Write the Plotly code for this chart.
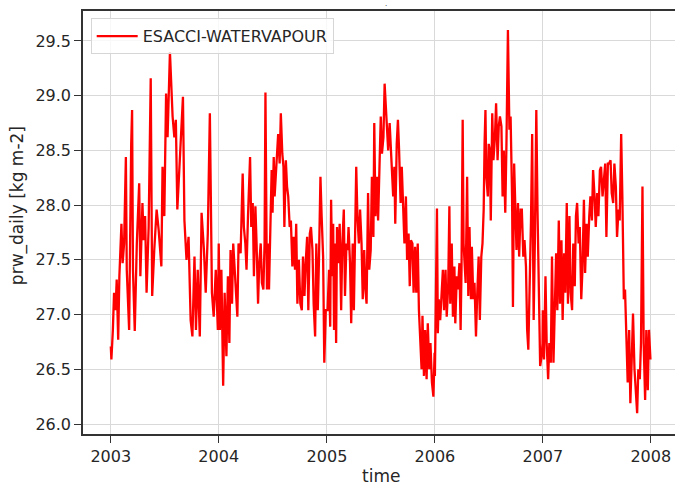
import pandas as pd
import plotly.graph_objects as go

series_name = "ESACCI-WATERVAPOUR"
y_label = "prw_daily [kg m-2]"
x_label = "time"
year_ticks = [2003, 2004, 2005, 2006, 2007, 2008]
y_ticks = [26.0, 26.5, 27.0, 27.5, 28.0, 28.5, 29.0, 29.5]

days_2003 = [0, 2, 7, 11, 16, 20, 25, 29, 36, 40, 45, 51, 54, 62, 69, 72, 75, 81, 88, 96, 100, 107, 111, 116,
             121, 128, 135, 140, 147, 155, 162, 171, 175, 181, 187, 192, 200, 203, 209, 215, 220, 225, 234,
             244, 249, 256, 263, 270, 276, 283, 288, 294, 301, 307, 315, 321, 328, 335, 342, 348, 355, 362]
vals_2003 = [26.71, 26.59, 26.86, 27.20, 27.04, 27.32, 26.77, 27.35, 27.83, 27.47, 27.65, 28.44, 27.41, 26.86,
             28.56, 28.87, 27.41, 26.85, 27.65, 28.20, 27.35, 28.02, 27.68, 27.90, 27.20, 27.80, 29.16, 27.17,
             27.59, 27.96, 27.77, 27.44, 28.35, 27.90, 29.02, 28.62, 29.40, 29.17, 28.81, 28.62, 28.78, 27.96,
             28.50, 28.99, 27.86, 27.50, 27.71, 26.95, 26.80, 27.53, 26.86, 27.41, 26.80, 27.93, 27.59, 27.20,
             27.74, 28.84, 27.20, 26.98, 27.41, 26.86]

days_2004 = [0, 4, 9, 15, 20, 26, 31, 36, 40, 45, 49, 54, 58, 63, 67, 74, 81, 85, 90, 94, 99, 103, 106, 110,
             115, 119, 124, 128, 133, 137, 142, 146, 151, 155, 158, 163, 166, 170, 174, 179, 182, 186, 189,
             193, 198, 201, 206, 210, 215, 219, 222, 227, 231, 235, 240, 244, 249, 253, 258, 262, 266, 271,
             276, 281, 285, 290, 294, 299, 303, 308, 312, 317, 321, 326, 330, 335, 339, 344, 348, 353, 357, 362]
vals_2004 = [27.65, 26.86, 27.41, 26.35, 27.20, 26.62, 27.35, 26.74, 27.59, 27.10, 27.65, 27.41, 27.14, 26.98,
             27.65, 27.56, 28.29, 27.80, 27.65, 27.41, 27.90, 28.23, 28.44, 27.80, 28.02, 27.35, 27.99, 27.65,
             27.10, 27.47, 27.65, 27.29, 27.23, 27.65, 29.03, 27.23, 27.65, 27.23, 27.90, 28.32, 27.93, 28.44,
             28.08, 28.32, 28.47, 28.65, 28.38, 28.84, 28.47, 28.35, 27.80, 28.41, 28.17, 28.08, 27.80, 27.86,
             27.44, 27.71, 27.41, 27.83, 27.10, 27.50, 27.10, 27.04, 27.53, 27.17, 27.47, 27.71, 27.04, 27.74,
             27.80, 27.59, 27.10, 26.80, 27.65, 27.04, 27.50, 28.26, 27.90, 27.53, 26.56, 27.04]

days_2005 = [2, 7, 11, 14, 18, 21, 24, 28, 31, 34, 39, 43, 48, 52, 57, 61, 66, 70, 73, 78, 82, 87, 91, 96, 99,
             103, 108, 112, 117, 121, 126, 130, 134, 139, 143, 148, 152, 157, 160, 164, 169, 173, 178, 182,
             186, 191, 195, 199, 203, 207, 212, 215, 219, 224, 228, 231, 236, 240, 244, 249, 253, 258, 262,
             267, 271, 276, 280, 284, 289, 293, 298, 302, 307, 311, 316, 320, 323, 328, 332, 337, 341, 346,
             350, 355, 360, 364]
vals_2005 = [27.04, 27.41, 26.89, 28.05, 27.35, 27.83, 26.86, 27.65, 26.74, 27.80, 27.47, 27.83, 27.04, 27.65,
             27.96, 27.17, 27.65, 27.59, 27.80, 27.47, 26.92, 27.65, 27.04, 28.14, 28.35, 27.90, 27.65, 27.96,
             27.65, 27.14, 27.59, 27.23, 27.10, 28.11, 27.41, 27.59, 28.26, 27.71, 28.75, 27.90, 28.26, 27.86,
             28.32, 28.81, 28.47, 28.62, 29.11, 28.87, 28.75, 28.50, 28.75, 28.56, 28.38, 28.08, 28.35, 27.83,
             28.56, 28.78, 28.50, 28.02, 28.35, 27.96, 27.65, 28.08, 27.50, 27.74, 27.26, 27.68, 27.65, 27.20,
             27.62, 27.20, 27.65, 27.04, 26.74, 26.50, 26.99, 26.44, 26.86, 26.41, 26.92, 26.50, 26.74, 26.38,
             26.25, 26.65]

days_2006 = [0, 7, 10, 13, 18, 22, 27, 31, 36, 40, 45, 49, 52, 57, 61, 66, 69, 74, 78, 83, 87, 90, 94, 97, 101,
             104, 109, 113, 117, 122, 125, 130, 134, 139, 143, 148, 152, 157, 161, 165, 168, 171, 174, 179,
             182, 186, 189, 194, 198, 203, 207, 212, 216, 220, 225, 229, 233, 238, 242, 247, 252, 256, 261,
             264, 268, 273, 276, 281, 285, 290, 294, 299, 303, 308, 312, 316, 320, 325, 329, 334, 338, 343,
             347, 352, 356, 361, 364]
vals_2006 = [26.44, 27.97, 26.83, 27.14, 26.95, 27.14, 27.41, 27.04, 27.41, 26.98, 27.26, 27.99, 27.10, 27.65,
             26.98, 27.44, 26.92, 27.35, 27.23, 27.47, 26.86, 27.41, 28.78, 27.65, 27.35, 27.29, 28.26, 27.17,
             27.80, 27.14, 27.62, 27.14, 27.29, 26.80, 27.17, 27.53, 26.95, 27.53, 27.65, 27.96, 28.56, 28.87,
             28.26, 28.08, 28.56, 28.50, 27.86, 28.84, 28.41, 28.62, 28.93, 28.41, 28.72, 28.81, 28.72, 28.08,
             28.50, 27.93, 28.56, 29.60, 28.69, 28.81, 28.08, 27.07, 28.38, 27.96, 27.59, 28.02, 27.53, 27.96,
             27.96, 27.53, 27.68, 27.44, 26.86, 26.68, 27.10, 27.86, 28.65, 26.95, 27.65, 28.87, 27.96, 27.20,
             26.53, 26.62, 26.74]

days_2007 = [0, 4, 9, 13, 18, 22, 27, 31, 36, 40, 45, 49, 54, 58, 63, 67, 72, 76, 81, 85, 90, 94, 99, 103, 108,
             112, 116, 121, 125, 130, 134, 139, 143, 148, 152, 157, 161, 166, 170, 175, 179, 184, 188, 193,
             197, 202, 206, 211, 215, 220, 224, 229, 233, 238, 242, 247, 251, 256, 260, 265, 269, 274, 278,
             283, 287, 292, 296, 301, 305, 310, 314, 319, 323, 328, 332, 337, 341, 346, 350, 355, 359, 364]
vals_2007 = [27.04, 26.59, 27.35, 26.74, 26.41, 26.74, 26.56, 27.53, 26.56, 27.04, 27.56, 27.04, 27.86, 27.10,
             27.68, 26.95, 27.56, 27.20, 28.02, 27.10, 27.90, 27.20, 27.04, 27.65, 27.26, 27.90, 28.02, 27.65,
             27.80, 27.14, 27.41, 28.05, 27.38, 27.83, 27.53, 27.90, 28.08, 27.86, 28.32, 28.08, 27.80, 28.11,
             27.90, 28.32, 28.35, 28.08, 28.26, 28.38, 27.71, 28.38, 28.38, 28.41, 28.11, 28.02, 28.38, 28.17,
             27.71, 27.96, 27.86, 28.65, 28.08, 27.14, 27.23, 26.62, 26.38, 26.86, 26.19, 26.62, 27.01, 26.50,
             26.28, 26.10, 26.50, 26.41, 26.74, 28.17, 26.74, 26.22, 26.86, 26.31, 26.86, 26.59]

yearly = [(2003, days_2003, vals_2003), (2004, days_2004, vals_2004), (2005, days_2005, vals_2005),
          (2006, days_2006, vals_2006), (2007, days_2007, vals_2007)]

dates, values = [], []
for yr, dd, vv in yearly:
    base = pd.Timestamp(f"{yr}-01-01")
    dates += [base + pd.Timedelta(days=d) for d in dd]
    values += vv

text_col = "#262626"
font_fam = "DejaVu Sans, sans-serif"

fig = go.Figure()
fig.add_trace(go.Scatter(x=dates, y=values, mode="lines", name=series_name,
                         line=dict(color="red", width=2.3), showlegend=True))

x_start = pd.Timestamp("2003-01-01") - pd.Timedelta(days=94)
x_end = pd.Timestamp("2008-01-01") + pd.Timedelta(days=82)

fig.update_layout(
    width=675, height=485,
    margin=dict(l=83, r=0, t=11, b=51, autoexpand=False),
    paper_bgcolor="white", plot_bgcolor="white",
    font=dict(family=font_fam, size=16, color=text_col),
    title=dict(text=".", x=0.572, xanchor="center", y=0.998, yanchor="top",
               font=dict(size=7, color=text_col)),
    legend=dict(x=0.013, y=0.983, xanchor="left", yanchor="top", itemwidth=41,
                bgcolor="rgba(255,255,255,0.8)", bordercolor="#d6d6d6", borderwidth=1,
                font=dict(size=16, color=text_col)),
    showlegend=True,
    annotations=[
        dict(text=y_label, xref="paper", yref="paper", x=-0.1115, y=0.541,
             xanchor="center", yanchor="middle", textangle=-90, showarrow=False,
             font=dict(size=17, color=text_col)),
        dict(text=x_label, xref="paper", yref="paper", x=0.503, y=-0.099,
             xanchor="center", yanchor="middle", showarrow=False,
             font=dict(size=17, color=text_col)),
    ],
)
fig.update_xaxes(
    range=[x_start, x_end], type="date", automargin=False,
    tickvals=[pd.Timestamp(f"{y}-01-01") for y in year_ticks],
    ticktext=[str(y) for y in year_ticks],
    showgrid=True, gridcolor="#d9d9d9", gridwidth=1.3,
    showline=True, linecolor="#333333", linewidth=1.6, mirror=True,
    ticks="outside", ticklen=7, tickwidth=1.4, tickcolor="#333333",
    tickfont=dict(size=16, color=text_col),
    zeroline=False,
)
fig.update_yaxes(
    range=[25.909, 29.774], automargin=False,
    tickvals=y_ticks, ticktext=[f"{v:.1f}" for v in y_ticks],
    showgrid=True, gridcolor="#d9d9d9", gridwidth=1.3,
    showline=True, linecolor="#333333", linewidth=1.6, mirror=False,
    ticks="outside", ticklen=7, tickwidth=1.4, tickcolor="#333333",
    tickfont=dict(size=16, color=text_col),
    zeroline=False,
)

fig.write_html("out.html", config={"displayModeBar": False},
               post_script="document.body.style.margin='0';document.body.style.overflow='hidden';")
